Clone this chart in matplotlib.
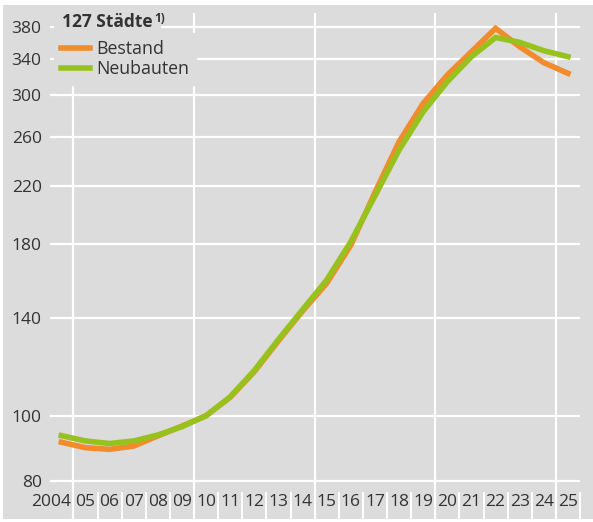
import matplotlib
matplotlib.use("Agg")
import matplotlib.pyplot as plt
from matplotlib.lines import Line2D
from matplotlib.patches import Rectangle
import matplotlib.transforms as mtransforms

# ---- data ----
years = list(range(2004, 2026))
tick_labels = ["2004"] + [f"{y % 100:02d}" for y in years[1:]]
bestand = [91.3, 89.6, 89.1, 90.1, 93.3, 96.5, 100.0, 106.5, 116.3, 129.3, 143.2,
           157.5, 179.5, 215.0, 256.0, 292.0, 321.8, 348.6, 377.7, 354.6, 335.7, 323.7]
neubauten = [93.4, 91.7, 90.9, 91.7, 93.6, 96.3, 100.0, 106.7, 116.8, 129.9, 143.9,
             159.3, 181.7, 212.5, 248.8, 283.7, 314.5, 342.7, 366.0, 360.0, 349.8, 342.7]
y_ticks = [80, 100, 140, 180, 220, 260, 300, 340, 380]
series_names = ["Bestand", "Neubauten"]
legend_title = "127 Städte"

# ---- style ----
BG = "#dcdcdc"
ORANGE = "#f28b2c"
GREEN = "#97c21e"
TXT = "#333333"
plt.rcParams["font.family"] = ["Open Sans", "DejaVu Sans"]

W, H = 593, 522
fig = plt.figure(figsize=(W / 100, H / 100), dpi=100, facecolor="white")
fig.patches.append(Rectangle((3 / W, (H - 519) / H), (W - 3) / W, 514 / H,
                             transform=fig.transFigure, facecolor=BG,
                             edgecolor="none", zorder=-10))

ax = fig.add_axes([50 / W, (H - 519) / H, (580 - 50) / W, (519 - 13) / H])
ax.set_facecolor(BG)
for s in ax.spines.values():
    s.set_visible(False)

ax.set_yscale("log")
ax.set_ylim(70.16, 398.1)
ax.set_xlim(2003.53, 2025.5)

# lines
ax.plot(years, bestand, color=ORANGE, lw=4.0, solid_joinstyle="miter", zorder=3)
ax.plot(years, neubauten, color=GREEN, lw=4.0, solid_joinstyle="miter", zorder=4)

# y axis
ax.yaxis.set_major_locator(matplotlib.ticker.FixedLocator(y_ticks))
ax.yaxis.set_minor_locator(matplotlib.ticker.NullLocator())
ax.set_yticklabels([str(v) for v in y_ticks])
ax.tick_params(axis="y", length=0, pad=6, labelsize=12.5, labelcolor=TXT)
ax.grid(axis="y", which="major", color="white", lw=1.6, zorder=1)

# x axis
ax.set_xticks(years)
ax.set_xticklabels(tick_labels)
bounds = [y + 0.5 for y in years]
ax.set_xticks([b for b in bounds if (b - 2004.5) % 5 != 0], minor=True)
ax.tick_params(axis="x", which="major", length=0, pad=-18, labelsize=12.5,
               labelcolor=TXT)
ax.tick_params(axis="x", which="minor", direction="in", length=19.5, width=1.4,
               color="white")
for b in bounds:
    if (b - 2004.5) % 5 == 0:
        ax.axvline(b, color="white", lw=1.6, zorder=1)

# first label right-aligned so that "04" sits at its year
lbl0 = ax.get_xticklabels()[0]
lbl0.set_horizontalalignment("right")
lbl0.set_transform(lbl0.get_transform() +
                   mtransforms.ScaledTranslation(10 / 100, 0, fig.dpi_scale_trans))

# legend
handles = [Line2D([], [], color=ORANGE, lw=4.0),
           Line2D([], [], color=GREEN, lw=4.0)]
leg = ax.legend(handles, series_names, loc="upper left",
                bbox_to_anchor=(54 / W, (H - 33) / H), bbox_transform=fig.transFigure,
                frameon=True, fancybox=False, facecolor=BG, edgecolor=BG,
                framealpha=1, borderaxespad=0, borderpad=0.4,
                handlelength=1.65, handletextpad=0.3, labelspacing=0.1,
                prop={"size": 12.8})
for t in leg.get_texts():
    t.set_color(TXT)
leg.set_zorder(6)

title = fig.text(62 / W, (H - 27) / H, legend_title, fontsize=12.5, fontweight="bold",
                 color=TXT, ha="left", va="baseline", zorder=7,
                 bbox=dict(facecolor=BG, edgecolor="none", pad=6))
sup = fig.text(0, 0, "1)", fontsize=8.5, fontweight="bold", color=TXT,
               ha="left", va="top", zorder=7,
               bbox=dict(facecolor=BG, edgecolor="none", pad=0.5))
fig.canvas.draw()
bb = title.get_window_extent()
sup.set_position(((bb.x1 + 2) / W, (bb.y1 + 1) / H))

fig.savefig("out.png", dpi=100, facecolor="white")
